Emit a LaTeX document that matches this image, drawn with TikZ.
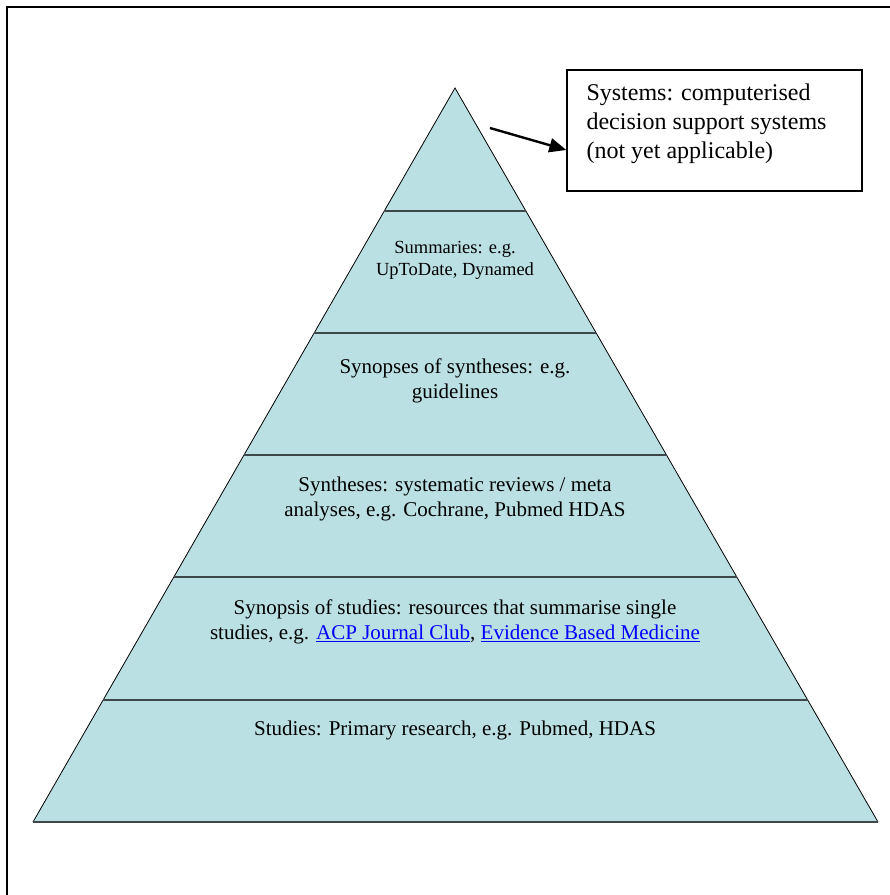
\documentclass[tikz,border=0pt]{standalone}
\usepackage{fontspec}
\setmainfont{Liberation Serif}
\usetikzlibrary{arrows.meta}
\usetikzlibrary{positioning}
\definecolor{pyramidfill}{RGB}{187,224,227}
\definecolor{bandline}{RGB}{62,72,74}
\definecolor{linkblue}{RGB}{0,0,255}
\newcommand{\weblink}[1]{\textcolor{linkblue}{\underline{#1}}}

\begin{document}
\begin{tikzpicture}[x=1pt,y=-1pt,
  bandtext/.style={align=center, inner sep=0pt, font=\fontsize{21}{24.5}\selectfont},
  toptext/.style={align=center, inner sep=0pt, font=\fontsize{18.5}{22}\selectfont},
  sysbox/.style={draw, line width=1.3pt, minimum width=295pt, minimum height=121pt, inner sep=0pt},
  systext/.style={align=left, inner sep=0pt, font=\fontsize{24}{29}\selectfont},
  pointer/.style={-{Triangle[length=17pt,width=14pt]}, line width=2.4pt}]

  \useasboundingbox (0,0) rectangle (890,895);

  % Page frame
  \draw[line width=2pt] (890,7) -- (7,7) -- (7,895);

  % Pyramid
  \fill[pyramidfill] (455,88) -- (878,822) -- (33,822) -- cycle;
  \draw[line width=0.8pt] (33,822) -- (455,88) -- (878,822);

  % Band dividers
  \foreach \y in {211,333,455,577,700,822}
    \draw[bandline, line width=2pt] ({455-(\y-88)*0.5749},\y) -- ({455+(\y-88)*0.5763},\y);

  % Band labels
  \node[toptext] (summaries) at (455,260) {Summaries: e.g.\\UpToDate, Dynamed};
  \node[bandtext] (synopses) at (455,381) {Synopses of syntheses: e.g.\\guidelines};
  \node[bandtext] (syntheses) at (455,499) {Syntheses: systematic reviews / meta\\analyses, e.g. Cochrane, Pubmed HDAS};
  \node[bandtext] (synopsis) at (455,622) {Synopsis of studies: resources that summarise single\\studies, e.g. \weblink{ACP Journal Club}, \weblink{Evidence Based Medicine}};
  \node[bandtext] (studies) at (455,730) {Studies: Primary research, e.g. Pubmed, HDAS};

  % Systems box
  \node[sysbox] (systems) at (714.5,130.5) {};
  \node[systext, anchor=west] (systems text) at ([xshift=20pt,yshift=6.5pt]systems.west)
    {Systems: computerised\\decision support systems\\(not yet applicable)};
  \coordinate (apex) at (490,128);
  \draw[pointer] (apex) -- ([yshift=-19.5pt]systems.west);

\end{tikzpicture}
\end{document}
